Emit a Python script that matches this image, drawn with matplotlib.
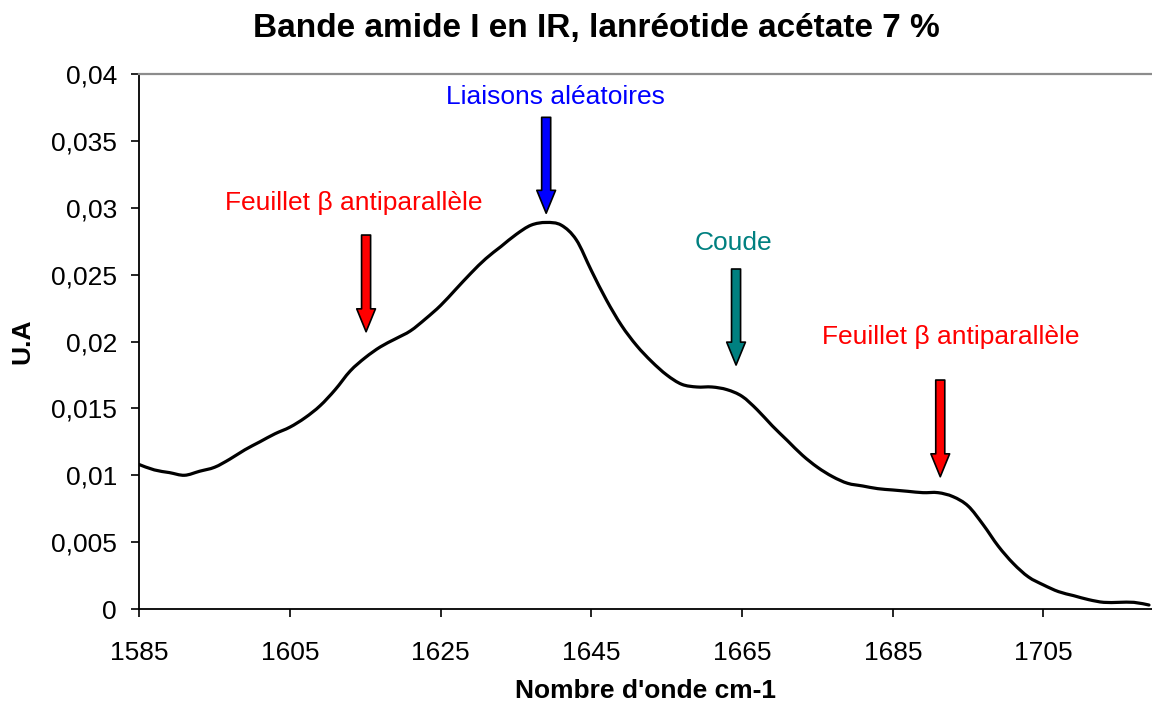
import matplotlib
matplotlib.use("Agg")
import numpy as np
import matplotlib.pyplot as plt
from matplotlib.patches import FancyArrowPatch, ArrowStyle, PathPatch
from matplotlib.path import Path

plt.rcParams['font.family'] = ['Liberation Sans', 'DejaVu Sans']

# Amide I band spectrum (wavenumber in cm-1, absorbance in arbitrary units)
wavenumber = [1585, 1587, 1589, 1591, 1593, 1595, 1597, 1599, 1601, 1603,
              1605, 1607, 1609, 1611, 1613, 1615, 1617, 1619, 1621, 1623,
              1625, 1627, 1629, 1631, 1633, 1635, 1637, 1639, 1641, 1643,
              1645, 1647, 1649, 1651, 1653, 1655, 1657, 1659, 1661, 1663,
              1665, 1667, 1669, 1671, 1673, 1675, 1677, 1679, 1681, 1683,
              1685, 1687, 1689, 1691, 1693, 1695, 1697, 1699, 1701, 1703,
              1705, 1707, 1709, 1711, 1713, 1715, 1717, 1719]
absorbance = [0.0108, 0.0104, 0.0102, 0.0100, 0.0103, 0.0106, 0.0112, 0.0119, 0.0125, 0.0131,
              0.0136, 0.0143, 0.0152, 0.0164, 0.0178, 0.0188, 0.0196, 0.0202, 0.0208, 0.0217,
              0.0227, 0.0239, 0.0251, 0.0262, 0.0271, 0.0280, 0.0287, 0.0289, 0.0287, 0.0276,
              0.0253, 0.0231, 0.0212, 0.0197, 0.0185, 0.0175, 0.0168, 0.0166, 0.0166, 0.0164,
              0.0159, 0.0149, 0.0137, 0.0126, 0.0115, 0.0106, 0.0099, 0.0094, 0.0092, 0.0090,
              0.0089, 0.0088, 0.0087, 0.0087, 0.0084, 0.0077, 0.0063, 0.0047, 0.0034, 0.0024,
              0.0018, 0.0013, 0.0010, 0.0007, 0.0005, 0.0005, 0.0005, 0.0003]

x_ticks = [1585, 1605, 1625, 1645, 1665, 1685, 1705]
y_ticks = [0, 0.005, 0.01, 0.015, 0.02, 0.025, 0.03, 0.035, 0.04]
y_tick_labels = ["0", "0,005", "0,01", "0,015", "0,02", "0,025", "0,03", "0,035", "0,04"]

# Band assignments: label, label position, arrow (x, top, tip), colour
band_labels = ["Feuillet β antiparallèle", "Liaisons aléatoires", "Coude", "Feuillet β antiparallèle"]
label_x = [1613.5, 1640.2, 1663.8, 1692.7]
label_y = [0.03036, 0.03830, 0.02737, 0.02034]
arrow_x = [1615.1, 1639.0, 1664.2, 1691.3]
arrow_top = [0.02796, 0.03676, 0.02542, 0.01712]
arrow_tip = [0.02073, 0.02959, 0.01824, 0.00989]
band_colors = ["#FF0000", "#0000FF", "#008080", "#FF0000"]


def smooth_path(xs, ys, tension=1.0 / 6.0):
    """Smoothed line through the points (cubic Bezier segments, Catmull-Rom tangents)."""
    x = np.asarray(xs, dtype=float)
    y = np.asarray(ys, dtype=float)
    n = len(x)
    verts = [(x[0], y[0])]
    codes = [Path.MOVETO]
    for i in range(n - 1):
        i0 = max(i - 1, 0)
        i3 = min(i + 2, n - 1)
        c1 = (x[i] + (x[i + 1] - x[i0]) * tension, y[i] + (y[i + 1] - y[i0]) * tension)
        c2 = (x[i + 1] - (x[i3] - x[i]) * tension, y[i + 1] - (y[i3] - y[i]) * tension)
        verts += [c1, c2, (x[i + 1], y[i + 1])]
        codes += [Path.CURVE4, Path.CURVE4, Path.CURVE4]
    return Path(verts, codes)


fig = plt.figure(figsize=(11.52, 7.04), dpi=100)
ax = fig.add_axes([0.1209, 0.1349, 0.8791, 0.7600])

ax.add_patch(PathPatch(smooth_path(wavenumber, absorbance), facecolor="none",
                       edgecolor="black", linewidth=2.3, joinstyle="round", capstyle="round"))

ax.set_xlim(1585, 1719.4)
ax.set_ylim(0, 0.04)
ax.set_xticks(x_ticks)
ax.set_xticklabels([str(t) for t in x_ticks])
ax.set_yticks(y_ticks)
ax.set_yticklabels(y_tick_labels)

ax.tick_params(axis="both", direction="out", length=6, width=1.2, labelsize=19, colors="black")
ax.tick_params(axis="x", pad=17)
ax.tick_params(axis="y", pad=10)

for side in ("left", "bottom"):
    ax.spines[side].set_color("black")
    ax.spines[side].set_linewidth(1.3)
ax.spines["top"].set_color("#8c8c8c")
ax.spines["top"].set_linewidth(1.6)
ax.spines["right"].set_visible(False)

ax.set_xlabel("Nombre d'onde cm-1", fontsize=19, fontweight="bold", labelpad=10)
ax.set_ylabel("U.A", fontsize=19, fontweight="bold", labelpad=12)
fig.text(0.5174, 0.960, "Bande amide I en IR, lanréotide acétate 7 %",
         ha="center", va="center", fontsize=24, fontweight="bold")

style = ArrowStyle.Simple(head_length=16.5, head_width=13.5, tail_width=6.5)
for lab, lx, ly, axx, top, tip, col in zip(band_labels, label_x, label_y, arrow_x,
                                            arrow_top, arrow_tip, band_colors):
    ax.text(lx, ly, lab, color=col, fontsize=19, ha="center", va="center")
    arr = FancyArrowPatch((axx, top), (axx, tip), arrowstyle=style, mutation_scale=1,
                          shrinkA=0, shrinkB=0, facecolor=col, edgecolor="black",
                          linewidth=1.2, clip_on=False)
    ax.add_patch(arr)

fig.savefig("out.png", dpi=100)
